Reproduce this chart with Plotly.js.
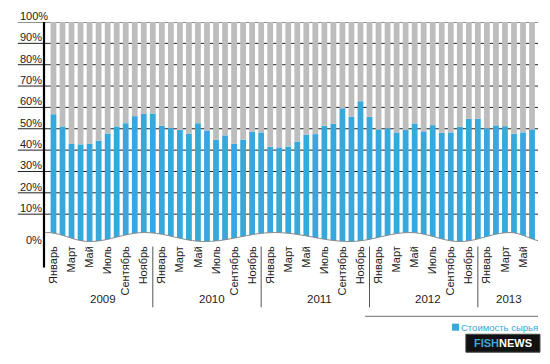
<!DOCTYPE html>
<html>
<head>
<meta charset="utf-8">
<script src="https://cdn.plot.ly/plotly-3.0.1.min.js"></script>
<style>html,body{margin:0;padding:0;background:#fff;}#chart{width:550px;height:364px;}</style>
</head>
<body>
<div id="chart"></div>
<script>
// ---- data ----
const years = ['2009', '2010', '2011', '2012', '2013'];
const monthTickLabels = ['Январь', 'Март', 'Май', 'Июль', 'Сентябрь', 'Ноябрь'];
const monthsPerYear = [12, 12, 12, 12, 6];
// share of raw material cost, %
const rawCost = [
  56.8, 51.1, 42.9, 42.7, 42.9, 44.4, 47.8, 51.1, 52.6, 55.9, 57.1, 57.1,
  51.4, 50.3, 49.4, 47.8, 52.6, 49.2, 44.9, 46.9, 42.9, 44.9, 48.6, 48.3,
  41.6, 41.3, 41.7, 44.0, 47.2, 47.5, 51.4, 52.3, 59.6, 55.7, 62.9, 55.6,
  49.7, 50.2, 48.3, 49.4, 52.5, 48.8, 51.7, 48.1, 48.3, 50.9, 54.7, 54.7,
  50.2, 51.6, 51.2, 47.7, 48.3, 49.7
];
const seriesName = 'Стоимость сырья';

// ---- build ----
const BLUE = '#36a8dc';
const GRAY = '#bdbdbd';
const BOTTOM = -3.5;
const idx = rawCost.map((_, i) => i);

const tickvals = [], ticktext = [];
let start = 0;
const yearCenters = [], yearSeps = [];
monthsPerYear.forEach((n, k) => {
  for (let m = 0; m < n; m += 2) { tickvals.push(start + m); ticktext.push(monthTickLabels[m / 2]); }
  yearCenters.push(start + (n - 1) / 2);
  if (k < monthsPerYear.length - 1) yearSeps.push(start + n - 1);
  start += n;
});

const traces = [
  { type: 'bar', x: idx, y: rawCost.map(v => v - BOTTOM), base: BOTTOM,
    marker: { color: BLUE }, name: seriesName, hoverinfo: 'skip', showlegend: false },
  { type: 'bar', x: idx, y: rawCost.map(v => 100 - v), base: rawCost,
    marker: { color: GRAY }, name: 'Прочее', hoverinfo: 'skip', showlegend: false }
];

// pixel helpers (decoration geometry)
const pxX = px => (px - 54) / 9.02;
const pxY = py => (236 - py) / 2.14;

// wavy bottom
const ext = [[40,234],[47,233],[90,242],[145,233],[205,242],[275,233],[350,242],[410,233],[460,242],[510,233],[545,242]];
let pts = [];
for (let i = 0; i < ext.length - 1; i++) {
  const [x0, y0] = ext[i], [x1, y1] = ext[i + 1];
  const steps = 10;
  for (let s = (i === 0 ? 0 : 1); s <= steps; s++) {
    const t = s / steps;
    const yy = y0 + (y1 - y0) * (1 - Math.cos(Math.PI * t)) / 2;
    pts.push([pxX(x0 + (x1 - x0) * t), pxY(yy)]);
  }
}
const curve = pts.map((p, i) => (i ? 'L' : 'M') + p[0].toFixed(3) + ',' + p[1].toFixed(3)).join(' ');
const fillPath = curve + ' L' + pts[pts.length - 1][0].toFixed(3) + ',' + (BOTTOM - 0.3) +
  ' L' + pts[0][0].toFixed(3) + ',' + (BOTTOM - 0.3) + ' Z';

const shapes = [];
// grid lines (behind bars, extending under the labels)
for (let g = 10; g <= 100; g += 10) {
  shapes.push({ type: 'line', xref: 'paper', yref: 'y', x0: -0.053, x1: 1, y0: g, y1: g,
    line: { color: '#222', width: 1 }, layer: 'below' });
}
shapes.push({ type: 'path', xref: 'x', yref: 'y', path: fillPath, fillcolor: '#fff', line: { width: 0 }, layer: 'above' });
shapes.push({ type: 'path', xref: 'x', yref: 'y', path: curve, line: { color: '#8a8a8a', width: 1 }, layer: 'above' });
// left axis line
shapes.push({ type: 'line', xref: 'paper', yref: 'paper', x0: 0, x1: 0, y0: 1, y1: -0.111,
  line: { color: '#000', width: 2.2 } });
// year separators
yearSeps.forEach(s => shapes.push({ type: 'line', xref: 'x', yref: 'paper', x0: s, x1: s, y0: -0.016, y1: -0.291,
  line: { color: '#555', width: 1 } }));
// horizontal rule above legend
shapes.push({ type: 'line', xref: 'paper', yref: 'paper', x0: 0.65, x1: 1, y0: -0.332, y1: -0.332,
  line: { color: '#8a8a8a', width: 1.2 } });
// legend swatch
shapes.push({ type: 'rect', xref: 'paper', yref: 'paper', x0: 0.826, x1: 0.840, y0: -0.365, y1: -0.397,
  fillcolor: BLUE, line: { width: 0 } });
// logo background
shapes.push({ type: 'rect', xref: 'paper', yref: 'paper', x0: 0.854, x1: 1.004, y0: -0.413, y1: -0.494,
  fillcolor: '#111', line: { color: '#444', width: 1 } });

const annotations = [];
for (let g = 10; g <= 100; g += 10) {
  annotations.push({ xref: 'paper', yref: 'y', x: -0.053, y: g, xanchor: 'left', yanchor: 'bottom',
    text: g + '%', showarrow: false, font: { size: 11, color: '#222' }, yshift: -2 });
}
annotations.push({ xref: 'paper', yref: 'y', x: -0.041, y: -1.9, xanchor: 'left', yanchor: 'middle',
  text: '0%', showarrow: false, font: { size: 11, color: '#222' } });
years.forEach((yr, k) => annotations.push({ xref: 'x', yref: 'paper', x: yearCenters[k], y: -0.255,
  xanchor: 'center', yanchor: 'middle', text: yr, showarrow: false, font: { size: 11.5, color: '#222' } }));
annotations.push({ xref: 'paper', yref: 'paper', x: 1.004, y: -0.381, xanchor: 'right', yanchor: 'middle',
  text: seriesName, showarrow: false,
  font: { size: 9.5, color: BLUE, family: 'Liberation Sans, Arial, sans-serif' } });
annotations.push({ xref: 'paper', yref: 'paper', x: 0.929, y: -0.4535, xanchor: 'center', yanchor: 'middle',
  text: '<b><span style="color:#3aa8dc">FISH</span>NEWS</b>', showarrow: false,
  font: { size: 11, color: '#fff', family: 'Liberation Sans, Arial, sans-serif' } });

const layout = {
  width: 550, height: 364,
  margin: { l: 44, r: 12, t: 22, b: 120.5 },
  paper_bgcolor: '#fff', plot_bgcolor: '#fff',
  font: { family: 'Liberation Sans, Arial, sans-serif', color: '#222' },
  barmode: 'overlay', bargap: 0.36,
  showlegend: false,
  xaxis: { range: [-1.05, 53.66], tickvals: tickvals, ticktext: ticktext, tickangle: -90,
    tickfont: { size: 11, color: '#222' }, showgrid: false, zeroline: false, showline: false, ticks: '', fixedrange: true },
  yaxis: { range: [BOTTOM, 100], showgrid: false, zeroline: false, showline: false, showticklabels: false, ticks: '', fixedrange: true },
  shapes: shapes,
  annotations: annotations
};

Plotly.newPlot('chart', traces, layout, { displayModeBar: false, staticPlot: true });
</script>
</body>
</html>
